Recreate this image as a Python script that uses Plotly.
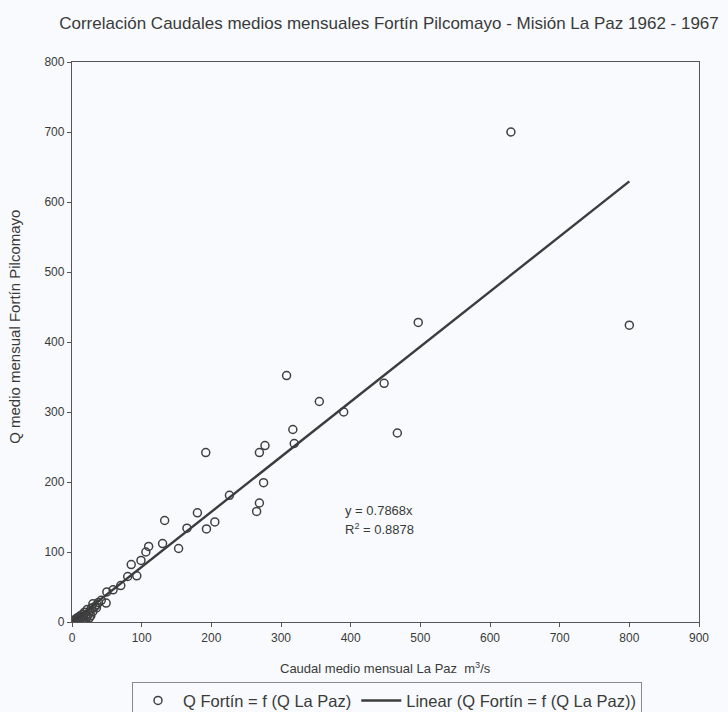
import plotly.graph_objects as go

# Monthly mean discharge, Misión La Paz (x) vs Fortín Pilcomayo (y), m3/s
q_la_paz = [630, 800, 497, 448, 467, 390, 355, 308, 317, 319,
            277, 269, 192, 275, 226, 269, 265, 180, 205, 193,
            165, 133, 130, 153, 110, 106, 99, 85, 93, 80,
            70, 59, 50, 49, 42, 36, 33, 30, 28, 26,
            24, 22, 20, 18, 16, 15, 13, 12, 11, 10,
            9, 8, 7, 6, 5, 4, 30, 27, 25, 22,
            35, 38, 20, 17, 14]
q_fortin = [700, 424, 428, 341, 270, 300, 315, 352, 275, 255,
            252, 242, 242, 199, 181, 170, 158, 156, 143, 133,
            134, 145, 112, 105, 108, 100, 88, 82, 66, 65,
            52, 46, 43, 27, 31, 25, 22, 26, 20, 16,
            12, 18, 10, 14, 8, 11, 6, 9, 5, 7,
            4, 6, 3, 5, 2, 3, 15, 9, 6, 8,
            20, 28, 5, 4, 3]

# Linear fit through the origin
slope = 0.7868
r2 = 0.8878
fit_x = [0, 800]
fit_y = [slope * v for v in fit_x]

x_ticks = [0, 100, 200, 300, 400, 500, 600, 700, 800, 900]
y_ticks = [0, 100, 200, 300, 400, 500, 600, 700, 800]

bg = "#f8fafd"
ink = "#3a3a3a"
font_family = "Liberation Sans, Arial, sans-serif"

fig = go.Figure()
fig.add_trace(go.Scatter(
    x=q_la_paz, y=q_fortin, mode="markers",
    name="Q Fortín = f (Q La Paz)",
    marker=dict(symbol="circle-open", size=8, color="#404040",
                line=dict(width=1.5, color="#404040")),
))
fig.add_trace(go.Scatter(
    x=fit_x, y=fit_y, mode="lines",
    name="Linear (Q Fortín = f (Q La Paz))",
    line=dict(color="#3c3c3c", width=2.4),
))

# Regression equation and coefficient of determination
fig.add_annotation(x=389, y=159, xref="x", yref="y", xanchor="left",
                   text=f"y = {slope}x", showarrow=False,
                   font=dict(size=13, color=ink))
fig.add_annotation(x=389, y=133, xref="x", yref="y", xanchor="left",
                   text=f"R<sup>2</sup> = {r2}", showarrow=False,
                   font=dict(size=13, color=ink))

# Axis titles
fig.add_annotation(x=0.5, y=-0.082, xref="paper", yref="paper",
                   xanchor="center", yanchor="middle",
                   text="Caudal medio mensual La Paz  m<sup>3</sup>/s", showarrow=False,
                   font=dict(size=13, color=ink))
fig.add_annotation(x=-0.091, y=0.527, xref="paper", yref="paper",
                   xanchor="center", yanchor="middle", textangle=-90,
                   text="Q medio mensual Fortín Pilcomayo", showarrow=False,
                   font=dict(size=15, color=ink))

axis_style = dict(showgrid=False, zeroline=False,
                  showline=True, linecolor="#555555", linewidth=1.3, mirror=True,
                  ticks="outside", ticklen=4, tickcolor="#555555",
                  tickfont=dict(size=12, color=ink))

fig.update_layout(
    width=728, height=712,
    margin=dict(l=72, r=29, t=62, b=90, autoexpand=False),
    paper_bgcolor=bg, plot_bgcolor=bg,
    font=dict(family=font_family, color=ink, size=12),
    title=dict(text="Correlación Caudales medios mensuales Fortín Pilcomayo - Misión La Paz 1962 - 1967",
               x=389 / 728, xref="container", xanchor="center",
               y=1 - 23 / 712, yref="container", yanchor="middle",
               font=dict(size=17, color=ink)),
    xaxis=dict(range=[0, 900], tickvals=x_ticks, **axis_style),
    yaxis=dict(range=[0, 800], tickvals=y_ticks, **axis_style),
    legend=dict(orientation="h", x=0.5024, xanchor="center", y=-0.1075, yanchor="top",
                bgcolor=bg, bordercolor="#8a8a8a", borderwidth=1,
                font=dict(size=16.5, color=ink), itemwidth=40,
                tracegroupgap=0),
    showlegend=True,
)

fig.write_html("out.html")
